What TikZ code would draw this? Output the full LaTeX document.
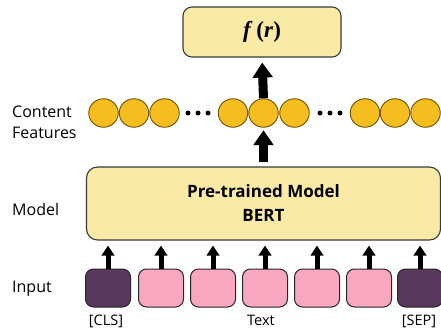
\documentclass[tikz,border=0pt]{standalone}
\usepackage{fontspec}
\setmainfont{Open Sans}
\newfontfamily\timesf{Liberation Serif}
\usetikzlibrary{arrows.meta,shapes.geometric}
\definecolor{boxyellow}{HTML}{FBE9A6}
\definecolor{boxedge}{HTML}{3A3A3A}
\definecolor{gold}{HTML}{F6BD1E}
\definecolor{goldedge}{HTML}{6B5000}
\definecolor{pinkbox}{HTML}{F9A7C0}
\definecolor{purplebox}{HTML}{5B395F}
\tikzset{
  ybox/.style={draw=boxedge, fill=boxyellow, line width=1.1pt, rounded corners=9pt, inner sep=0pt},
  feat/.style={ellipse, draw=goldedge, fill=gold, line width=0.9pt, minimum width=29.5pt, minimum height=28.5pt, inner sep=0pt},
  tok/.style={draw=black!85, line width=1pt, rounded corners=8pt, minimum width=45pt, minimum height=38pt, inner sep=0pt},
  ptok/.style={tok, fill=pinkbox},
  dtok/.style={tok, fill=purplebox},
  sidelabel/.style={font=\fontsize{16}{20}\selectfont, anchor=base west, inner sep=0pt},
  toklabel/.style={font=\fontsize{14.5}{17}\selectfont, anchor=base, inner sep=0pt},
  bigarrow/.style={line width=9pt, -{Triangle[width=19.5pt,length=15pt]}},
  smallarrow/.style={line width=5pt, -{Triangle[width=12.5pt,length=10pt]}},
  dot/.style={circle, fill=black, minimum size=5pt, inner sep=0pt},
}
\begin{document}
\begin{tikzpicture}[x=1pt,y=-1pt]
\useasboundingbox (0,0) rectangle (441,329);
% top box
\node[ybox, minimum width=158pt, minimum height=50pt] (f) at (262,32) {\timesf\fontsize{23}{25}\selectfont\textbf{\textit{f}}\,\textbf{(\textit{r})}};
% features
\foreach \i/\x in {1/103.5,2/134,3/164.5,4/233,5/263.5,6/294.5,7/365,8/395,9/425.5}
  \node[feat] (c\i) at (\x,113) {};
\foreach \j/\x in {1/188,2/198,3/208,4/320,5/330,6/340}
  \node[dot] (d\j) at (\x,113) {};
\node[sidelabel] (lcf1) at (12,117) {Content};
\node[sidelabel] (lcf2) at (12,138) {Features};
% model box
\node[ybox, rounded corners=11pt, minimum width=354pt, minimum height=73pt, align=center,
      font=\fontsize{17}{24}\selectfont\bfseries] (model) at (263.5,203.5) {Pre-trained Model\\BERT};
\node[sidelabel] (lmodel) at (12,215) {Model};
% inputs
\node[dtok] (t1) at (108,288) {};
\node[ptok] (t2) at (161,288) {};
\node[ptok] (t3) at (213,288) {};
\node[ptok] (t4) at (265,288) {};
\node[ptok] (t5) at (317,288) {};
\node[ptok] (t6) at (369,288) {};
\node[dtok] (t7) at (420,288) {};
\node[sidelabel] (linput) at (12,292) {Input};
\node[toklabel] (lcls) at (106,325) {[CLS]};
\node[toklabel] (ltext) at (261,325) {Text};
\node[toklabel] (lsep) at (419,325) {[SEP]};
% arrows
\draw[bigarrow, shorten >=5pt] (c5.north) -- (f.south);
\draw[bigarrow, shorten <=4pt, shorten >=2.5pt] (model.north -| c5) -- (c5.south);
\foreach \i in {1,...,7}
  \draw[smallarrow, shorten >=5pt] (t\i.north) -- (model.south -| t\i);
\end{tikzpicture}
\end{document}
